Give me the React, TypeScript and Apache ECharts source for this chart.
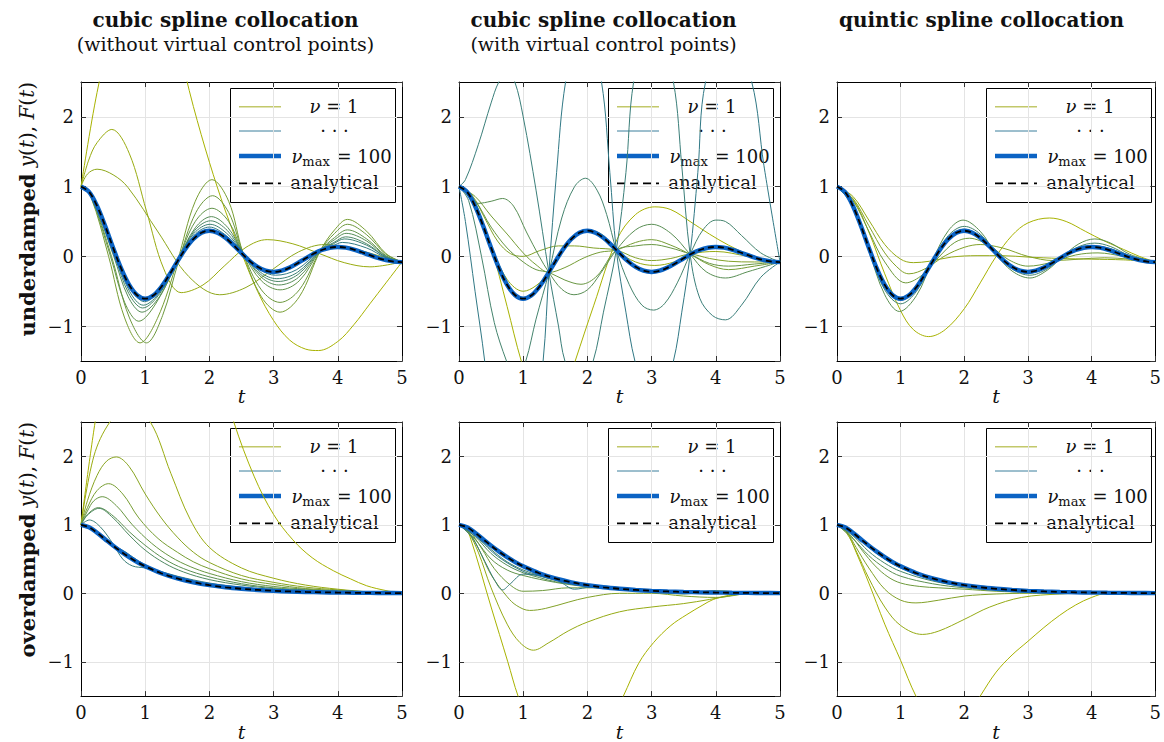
import React, { useEffect, useRef } from 'react';
import * as echarts from 'echarts';

type Pt = [number, number];

// ---------- analytical solutions ----------
const T_FINE = [0,0.125,0.25,0.375,0.5,0.625,0.75,0.875,1,1.125,1.25,1.375,1.5,1.625,1.75,1.875,2,2.125,2.25,2.375,2.5,2.625,2.75,2.875,3,3.125,3.25,3.375,3.5,3.625,3.75,3.875,4,4.125,4.25,4.375,4.5,4.625,4.75,4.875,5];
const UNDER_ANALYTIC = [1,0.925,0.723,0.439,0.124,-0.173,-0.409,-0.557,-0.607,-0.561,-0.439,-0.266,-0.075,0.105,0.248,0.338,0.368,0.340,0.266,0.162,0.046,-0.064,-0.150,-0.205,-0.223,-0.206,-0.161,-0.098,-0.028,0.039,0.091,0.124,0.135,0.125,0.098,0.059,0.017,-0.023,-0.055,-0.075,-0.082];
const T_OVER = [0,0.125,0.25,0.375,0.5,0.625,0.75,0.875,1,1.25,1.5,1.75,2,2.25,2.5,2.75,3,3.25,3.5,3.75,4,4.25,4.5,4.75,5];
const OVER_ANALYTIC = [1,0.963,0.884,0.790,0.696,0.608,0.528,0.456,0.394,0.293,0.217,0.161,0.119,0.088,0.066,0.049,0.036,0.027,0.020,0.015,0.011,0.008,0.006,0.004,0.003];

// ---------- panel 1: underdamped, cubic without virtual control points ----------
const p1_nu1: Pt[] = [[0,1],[0.25,2.35],[0.5,3.3],[0.75,3.85],[1,4.0],[1.25,3.75],[1.5,3.05],[1.75,2.15],[2,1.35],[2.25,0.65],[2.5,0.05],[2.75,-0.5],[3,-0.92],[3.25,-1.2],[3.5,-1.33],[3.7,-1.35],[4,-1.22],[4.25,-0.98],[4.5,-0.68],[4.75,-0.38],[5,-0.08]];
const p1_a: Pt[] = [[0,1],[0.12,1.38],[0.25,1.63],[0.48,1.82],[0.75,1.48],[1.02,0.65],[1.29,-0.18],[1.56,-0.52],[1.9,-0.41],[2.23,-0.14],[2.57,0.13],[2.9,0.24],[3.3,0.18],[3.7,0.045],[4.1,-0.09],[4.5,-0.15],[5,-0.08]];
const p1_b: Pt[] = [[0,1],[0.1,1.18],[0.25,1.25],[0.5,1.17],[0.73,0.99],[1.2,0.35],[1.68,-0.29],[2.16,-0.55],[2.57,-0.445],[2.98,-0.19],[3.39,0.065],[3.8,0.17],[4.2,0.12],[4.6,0.02],[5,-0.08]];
const p1_g1: Pt[] = [[0,1],[0.15,0.86],[0.43,0],[0.675,-0.87],[0.92,-1.24],[1.19,-0.89],[1.5,-0.07],[1.78,0.79],[2.04,1.1],[2.3,0.79],[2.52,0.06],[2.81,-0.58],[3.1,-0.8],[3.4,-0.58],[3.73,0.085],[3.95,0.38],[4.15,0.53],[4.45,0.36],[4.75,0.04],[5,-0.08]];
const p1_g2: Pt[] = [[0,1],[0.15,0.88],[0.475,0],[0.75,-0.87],[1.02,-1.24],[1.27,-0.85],[1.52,-0.07],[1.79,0.63],[2.05,0.87],[2.3,0.63],[2.52,0.06],[2.81,-0.48],[3.1,-0.66],[3.4,-0.48],[3.73,0.085],[3.95,0.33],[4.15,0.46],[4.45,0.31],[4.75,0.03],[5,-0.08]];
const p1_g3: Pt[] = [[0,1],[0.15,0.87],[0.46,0],[0.68,-0.66],[0.9,-0.93],[1.17,-0.67],[1.5,-0.07],[1.78,0.5],[2.04,0.69],[2.3,0.5],[2.52,0.06],[2.81,-0.35],[3.1,-0.48],[3.4,-0.35],[3.73,0.085],[3.95,0.27],[4.15,0.38],[4.45,0.25],[4.75,0.01],[5,-0.08]];
const p1_g4: Pt[] = [[0,1],[0.15,0.89],[0.51,0],[0.73,-0.57],[0.95,-0.8],[1.22,-0.58],[1.5,-0.07],[1.78,0.41],[2.03,0.57],[2.29,0.41],[2.52,0.06],[2.81,-0.3],[3.08,-0.41],[3.39,-0.3],[3.73,0.085],[3.95,0.24],[4.13,0.33],[4.45,0.22],[4.75,0.0],[5,-0.08]];
const p1_g5: Pt[] = [[0,1],[0.15,0.9],[0.526,0],[0.743,-0.53],[0.96,-0.74],[1.23,-0.53],[1.5,-0.07],[1.77,0.37],[2.02,0.51],[2.28,0.37],[2.52,0.06],[2.8,-0.26],[3.07,-0.36],[3.38,-0.26],[3.73,0.085],[3.94,0.2],[4.12,0.28],[4.45,0.18],[4.75,-0.01],[5,-0.08]];
const p1_g6: Pt[] = [[0,1],[0.15,0.9],[0.54,0],[0.755,-0.5],[0.97,-0.7],[1.24,-0.5],[1.5,-0.07],[1.76,0.33],[2.01,0.46],[2.27,0.33],[2.52,0.06],[2.8,-0.23],[3.05,-0.32],[3.37,-0.23],[3.73,0.085],[3.93,0.18],[4.1,0.25],[4.45,0.16],[4.75,-0.01],[5,-0.08]];
const p1_g7: Pt[] = [[0,1],[0.15,0.91],[0.562,0],[0.776,-0.467],[0.99,-0.65],[1.25,-0.46],[1.52,-0.07],[1.76,0.3],[2.0,0.42],[2.26,0.3],[2.52,0.06],[2.79,-0.19],[3.03,-0.27],[3.36,-0.19],[3.73,0.085],[3.92,0.15],[4.07,0.2],[4.45,0.12],[4.75,-0.02],[5,-0.08]];

// ---------- panel 2: underdamped, cubic with virtual control points ----------
const p2_nu1: Pt[] = [[0,1],[0.2,0.86],[0.35,0.55],[0.5,0.15],[0.75,-0.72],[0.97,-1.5],[1.2,-2.1],[1.4,-2.3],[1.6,-2.1],[1.81,-1.5],[2.1,-0.7],[2.46,0.24],[2.75,0.6],[3.05,0.71],[3.3,0.67],[3.6,0.5],[3.9,0.32],[4.2,0.16],[4.5,0.03],[4.75,-0.04],[5,-0.08]];
const p2_y1: Pt[] = [[0,1],[0.25,0.74],[0.5,0.16],[0.75,-0.33],[1.0,-0.5],[1.2,-0.42],[1.4,-0.23],[1.7,0.18],[2.0,0.38],[2.25,0.3],[2.45,0.09],[2.75,-0.08],[3.05,-0.13],[3.35,-0.08],[3.6,0.03],[4.0,0.07],[4.5,0.0],[5,-0.08]];
const p2_m1: Pt[] = [[0,1],[0.2,0.88],[0.4,0.55],[0.6,0.22],[0.8,0.04],[1.0,0.0],[1.25,0.08],[1.55,0.15],[1.8,0.15],[2.1,0.12],[2.45,0.09],[2.75,-0.02],[3.0,-0.06],[3.3,-0.03],[3.6,0.03],[3.9,-0.03],[4.2,-0.07],[4.6,-0.08],[5,-0.08]];
const p2_m2: Pt[] = [[0,1],[0.25,0.86],[0.5,0.58],[0.75,0.32],[1.0,0.05],[1.2,-0.12],[1.4,-0.23],[1.65,-0.16],[1.95,-0.02],[2.2,0.06],[2.45,0.09],[2.75,0.2],[3.0,0.24],[3.3,0.16],[3.6,0.03],[3.9,-0.12],[4.2,-0.19],[4.6,-0.14],[5,-0.08]];
const p2_m3: Pt[] = [[0,1],[0.25,0.8],[0.5,0.42],[0.75,0.12],[1.0,-0.08],[1.2,-0.19],[1.4,-0.23],[1.65,-0.34],[1.9,-0.4],[2.15,-0.28],[2.45,0.09],[2.75,0.15],[3.0,0.17],[3.3,0.12],[3.6,0.03],[3.9,-0.1],[4.2,-0.14],[4.6,-0.11],[5,-0.08]];
const p2_bump: Pt[] = [[0,1],[0.12,0.9],[0.3,0.76],[0.5,0.79],[0.68,0.83],[0.85,0.72],[1.05,0.35],[1.25,0.0],[1.4,-0.23],[1.6,-0.47],[1.79,-0.55],[2.0,-0.48],[2.2,-0.25],[2.45,0.09],[2.75,0.38],[3.0,0.46],[3.3,0.33],[3.6,0.03],[3.85,-0.22],[4.15,-0.31],[4.5,-0.22],[5,-0.08]];
const p2_wc: Pt[] = [[0,1],[0.15,0.8],[0.35,0.0],[0.55,-0.95],[0.74,-1.5],[0.89,-1.8],[1.04,-1.5],[1.2,-0.9],[1.4,-0.23],[1.6,0.55],[1.8,1.0],[1.97,1.12],[2.15,0.95],[2.3,0.6],[2.45,0.09],[2.65,-0.4],[2.85,-0.7],[3.03,-0.77],[3.2,-0.68],[3.4,-0.38],[3.6,0.03],[3.8,0.38],[4.0,0.52],[4.15,0.5],[4.4,0.3],[4.7,0.05],[5,-0.08]];
const p2_wa: Pt[] = [[0,1],[0.1,1.1],[0.3,1.6],[0.5,2.2],[0.62,2.5],[0.75,2.65],[0.87,2.5],[1.0,2.0],[1.2,0.95],[1.4,-0.23],[1.55,-1.0],[1.65,-1.5],[1.87,-1.95],[2.09,-1.5],[2.25,-0.8],[2.45,0.09],[2.6,1.2],[2.72,2.5],[3.02,3.6],[3.34,2.5],[3.47,1.3],[3.6,0.03],[3.75,-0.6],[3.95,-0.85],[4.15,-0.91],[4.4,-0.7],[4.7,-0.3],[5,-0.08]];
const p2_wb: Pt[] = [[0,1],[0.1,0.5],[0.25,-0.5],[0.4,-1.5],[0.6,-3.2],[0.85,-3.8],[1.1,-3.0],[1.31,-1.5],[1.4,-0.23],[1.52,1.2],[1.66,2.5],[1.94,3.6],[2.22,2.5],[2.35,1.2],[2.45,0.09],[2.6,-0.8],[2.74,-1.5],[3.04,-2.4],[3.34,-1.5],[3.47,-0.8],[3.6,0.03],[3.72,1.2],[3.84,2.5],[4.2,3.3],[4.56,2.5],[4.75,1.3],[5,-0.08]];

// ---------- panel 3: underdamped, quintic ----------
const p3_nu1: Pt[] = [[0,1],[0.25,0.82],[0.5,0.35],[0.75,-0.25],[1.0,-0.78],[1.2,-1.05],[1.44,-1.15],[1.7,-1.05],[2.0,-0.75],[2.25,-0.38],[2.5,0.0],[2.75,0.3],[3.0,0.48],[3.34,0.55],[3.6,0.5],[3.9,0.36],[4.2,0.22],[4.5,0.1],[4.75,0.0],[5,-0.08]];
const p3_a: Pt[] = [[0,1],[0.25,0.86],[0.5,0.52],[0.75,0.17],[1.0,-0.04],[1.2,-0.09],[1.45,-0.07],[1.8,-0.01],[2.2,0.01],[2.6,0.01],[3.0,-0.01],[3.5,-0.03],[4.0,-0.04],[4.5,-0.05],[5,-0.08]];
const p3_b: Pt[] = [[0,1],[0.25,0.83],[0.5,0.44],[0.75,0.05],[1.0,-0.2],[1.13,-0.25],[1.4,-0.17],[1.7,0.01],[2.0,0.13],[2.25,0.17],[2.6,0.12],[3.0,0.0],[3.4,-0.06],[3.8,-0.04],[4.2,-0.02],[4.6,-0.04],[5,-0.08]];
const p3_c: Pt[] = [[0,1],[0.25,0.8],[0.5,0.36],[0.75,-0.08],[1.08,-0.38],[1.35,-0.26],[1.6,-0.01],[1.85,0.2],[2.08,0.26],[2.4,0.15],[2.7,-0.05],[3.0,-0.14],[3.35,-0.09],[3.75,0.02],[4.1,0.05],[4.5,0.0],[5,-0.08]];
const p3_d: Pt[] = [[0,1],[0.25,0.74],[0.5,0.08],[0.75,-0.55],[0.98,-0.79],[1.25,-0.56],[1.5,-0.06],[1.75,0.37],[1.98,0.52],[2.25,0.36],[2.5,0.03],[2.75,-0.21],[3.03,-0.31],[3.3,-0.2],[3.55,0.0],[3.8,0.18],[4.05,0.25],[4.3,0.19],[4.6,0.03],[5,-0.08]];
const p3_e: Pt[] = [[0,1],[0.25,0.73],[0.5,0.1],[0.75,-0.48],[1.0,-0.68],[1.25,-0.5],[1.5,-0.07],[1.75,0.3],[2.0,0.43],[2.25,0.32],[2.5,0.04],[2.75,-0.18],[3.03,-0.27],[3.3,-0.18],[3.55,0.0],[3.8,0.14],[4.05,0.19],[4.3,0.14],[4.6,0.01],[5,-0.08]];
const p3_f: Pt[] = [[0,1],[0.25,0.725],[0.5,0.115],[0.75,-0.43],[1.0,-0.63],[1.25,-0.46],[1.5,-0.075],[1.75,0.26],[2.0,0.39],[2.25,0.29],[2.5,0.045],[2.75,-0.16],[3.0,-0.24],[3.3,-0.16],[3.55,0.0],[3.8,0.11],[4.05,0.15],[4.3,0.11],[4.6,0.0],[5,-0.08]];

// ---------- panel 4: overdamped, cubic without virtual control points ----------
const p4_nu1: Pt[] = [[0,1],[0.22,2.5],[0.5,4.0],[1.0,5.2],[1.5,5.0],[2.0,3.7],[2.38,2.5],[2.7,1.7],[3.0,1.15],[3.3,0.78],[3.6,0.52],[3.93,0.33],[4.2,0.21],[4.45,0.11],[4.75,0.04],[5,0]];
const p4_a: Pt[] = [[0,1],[0.2,2.0],[0.45,2.5],[0.75,2.75],[1.08,2.5],[1.4,1.75],[1.7,1.08],[2.0,0.67],[2.5,0.37],[3.0,0.22],[3.5,0.12],[4.0,0.06],[4.5,0.02],[5,0]];
const p4_b: Pt[] = [[0,1],[0.1,1.35],[0.25,1.72],[0.4,1.93],[0.55,1.99],[0.75,1.85],[1.0,1.45],[1.25,1.1],[1.5,0.82],[1.75,0.6],[2.0,0.45],[2.5,0.26],[3.0,0.16],[3.5,0.09],[4.0,0.05],[4.5,0.02],[5,0]];
const p4_c: Pt[] = [[0,1],[0.1,1.25],[0.25,1.5],[0.43,1.6],[0.65,1.45],[0.9,1.1],[1.2,0.8],[1.5,0.6],[1.75,0.46],[2.0,0.36],[2.5,0.21],[3.0,0.13],[3.5,0.07],[4.0,0.04],[4.5,0.015],[5,0]];
const p4_d: Pt[] = [[0,1],[0.1,1.2],[0.2,1.35],[0.33,1.41],[0.55,1.28],[0.8,1.0],[1.1,0.73],[1.4,0.53],[1.7,0.39],[2.0,0.29],[2.5,0.17],[3.0,0.1],[3.5,0.06],[4.0,0.03],[4.5,0.012],[5,0]];
const p4_e: Pt[] = [[0,1],[0.1,1.15],[0.27,1.25],[0.5,1.13],[0.75,0.9],[1.0,0.7],[1.3,0.5],[1.6,0.36],[2.0,0.24],[2.5,0.14],[3.0,0.08],[3.5,0.05],[4.0,0.025],[4.5,0.01],[5,0]];
const p4_f: Pt[] = [[0,1],[0.1,1.14],[0.28,1.24],[0.5,1.1],[0.75,0.85],[1.0,0.63],[1.3,0.44],[1.6,0.31],[2.0,0.2],[2.5,0.12],[3.0,0.07],[3.5,0.04],[4.0,0.02],[4.5,0.008],[5,0]];
const p4_g: Pt[] = [[0,1],[0.13,1.07],[0.3,0.97],[0.5,0.72],[0.65,0.5],[0.8,0.4],[1.0,0.37],[1.2,0.33],[1.5,0.25],[2.0,0.15],[2.5,0.09],[3,0.05],[3.5,0.03],[4,0.015],[4.5,0.006],[5,0]];
const p4_h: Pt[] = [[0,1],[0.2,0.93],[0.35,0.83],[0.5,0.71],[0.7,0.6],[0.9,0.47],[1.2,0.33],[1.6,0.21],[2,0.13],[3,0.04],[4,0.012],[5,0]];

// ---------- panel 5: overdamped, cubic with virtual control points ----------
const p5_nu1: Pt[] = [[0,1],[0.08,0.97],[0.17,0.83],[0.5,-0.2],[0.76,-1.0],[0.92,-1.5],[1.25,-2.3],[1.75,-2.6],[2.2,-2.2],[2.56,-1.5],[2.8,-1.02],[3.03,-0.72],[3.3,-0.47],[3.55,-0.31],[3.8,-0.17],[3.96,-0.09],[4.2,-0.03],[4.45,0.0],[5,0]];
const p5_a: Pt[] = [[0,1],[0.15,0.88],[0.3,0.6],[0.5,0.08],[0.75,-0.45],[0.95,-0.72],[1.16,-0.83],[1.4,-0.72],[1.7,-0.55],[2.0,-0.42],[2.5,-0.27],[3.0,-0.2],[3.5,-0.15],[3.9,-0.09],[4.2,-0.04],[4.5,0],[5,0]];
const p5_b: Pt[] = [[0,1],[0.15,0.9],[0.3,0.66],[0.5,0.27],[0.75,-0.05],[0.9,-0.18],[1.1,-0.25],[1.35,-0.22],[1.7,-0.13],[2.0,-0.06],[2.5,0.0],[3.0,0.0],[3.5,-0.04],[4.0,-0.06],[4.3,-0.03],[4.5,0],[5,0]];
const p5_c: Pt[] = [[0,1],[0.15,0.92],[0.35,0.66],[0.55,0.36],[0.8,0.12],[1.0,0.03],[1.3,0.04],[1.7,0.08],[2.0,0.08],[2.5,0.06],[3.0,0.02],[3.5,-0.01],[4.0,0.04],[4.3,0.02],[4.5,0.0],[5,0]];
const p5_d: Pt[] = [[0,1],[0.25,0.79],[0.5,0.5],[0.75,0.34],[1.0,0.26],[1.5,0.16],[2,0.095],[2.5,0.055],[3,0.03],[4,0.01],[5,0]];
const p5_e: Pt[] = [[0,1],[0.25,0.83],[0.5,0.58],[0.75,0.41],[1.0,0.3],[1.25,0.23],[1.5,0.17],[2,0.1],[2.5,0.058],[3,0.033],[4,0.01],[5,0]];
const p5_f: Pt[] = [[0,1],[0.25,0.86],[0.5,0.64],[0.75,0.46],[1.0,0.34],[1.25,0.26],[1.5,0.19],[2,0.11],[2.5,0.063],[3,0.035],[3.5,0.02],[4,0.01],[5,0]];
const p5_g: Pt[] = [[0,1],[0.2,0.82],[0.4,0.47],[0.55,0.2],[0.68,0.05],[0.8,0.14],[1.0,0.28],[1.25,0.26],[1.5,0.2],[2.0,0.12],[2.5,0.065],[3,0.036],[4,0.011],[5,0]];
const p5_h: Pt[] = [[0,1],[0.3,0.8],[0.6,0.54],[1.0,0.32],[1.3,0.24],[1.55,0.18],[1.8,0.06],[2.05,0.09],[2.3,0.09],[2.6,0.065],[3,0.04],[4,0.012],[5,0]];

// ---------- panel 6: overdamped, quintic ----------
const p6_nu1: Pt[] = [[0,1],[0.15,0.9],[0.3,0.6],[0.5,0.15],[0.75,-0.45],[1.0,-0.98],[1.24,-1.5],[1.5,-1.9],[1.8,-2.0],[2.05,-1.8],[2.25,-1.5],[2.5,-1.15],[2.75,-0.9],[3.0,-0.7],[3.25,-0.5],[3.5,-0.32],[3.75,-0.17],[4.0,-0.06],[4.25,0],[5,0]];
const p6_a: Pt[] = [[0,1],[0.15,0.88],[0.3,0.62],[0.5,0.22],[0.75,-0.2],[1.0,-0.47],[1.34,-0.6],[1.6,-0.55],[2.0,-0.38],[2.4,-0.2],[2.9,-0.06],[3.5,-0.01],[4.0,0],[5,0]];
const p6_b: Pt[] = [[0,1],[0.15,0.9],[0.3,0.67],[0.5,0.37],[0.75,0.06],[1.0,-0.1],[1.24,-0.14],[1.6,-0.1],[2.0,-0.04],[2.5,-0.01],[3,0],[5,0]];
const p6_c: Pt[] = [[0,1],[0.2,0.86],[0.4,0.62],[0.6,0.4],[0.8,0.24],[1.0,0.15],[1.3,0.1],[1.6,0.08],[2.0,0.06],[2.5,0.03],[3,0.015],[4,0.002],[5,0]];
const p6_d: Pt[] = [[0,1],[0.25,0.8],[0.5,0.55],[0.75,0.37],[1.0,0.25],[1.5,0.14],[2,0.08],[2.5,0.045],[3,0.025],[4,0.005],[5,0]];
const p6_e: Pt[] = [[0,1],[0.25,0.84],[0.5,0.61],[0.75,0.44],[1.0,0.32],[1.5,0.18],[2,0.1],[2.5,0.056],[3,0.031],[4,0.008],[5,0]];
const p6_f: Pt[] = [[0,1],[0.25,0.87],[0.5,0.67],[0.75,0.5],[1.0,0.37],[1.5,0.2],[2,0.115],[2.5,0.063],[3,0.035],[4,0.01],[5,0]];

// ---------- text ----------
const TITLES = ['cubic spline collocation', 'cubic spline collocation', 'quintic spline collocation'];
const SUBTITLES = ['(without virtual control points)', '(with virtual control points)', ''];
const ROW_LABELS = ['underdamped', 'overdamped'];

// curve lists per panel: [data, colour position 0 (ν=1) .. 1 (late iterations)]
const PANELS: { curves: [Pt[], number][]; over: boolean }[] = [
  { over: false, curves: [[p1_nu1,0],[p1_a,0.12],[p1_b,0.2],[p1_g1,0.38],[p1_g2,0.46],[p1_g3,0.55],[p1_g4,0.64],[p1_g5,0.73],[p1_g6,0.83],[p1_g7,0.93]] },
  { over: false, curves: [[p2_nu1,0],[p2_y1,0.15],[p2_m1,0.3],[p2_m2,0.4],[p2_m3,0.5],[p2_bump,0.62],[p2_wc,0.78],[p2_wa,0.86],[p2_wb,0.94]] },
  { over: false, curves: [[p3_nu1,0],[p3_a,0.15],[p3_b,0.3],[p3_c,0.45],[p3_d,0.6],[p3_e,0.78],[p3_f,0.92]] },
  { over: true, curves: [[p4_nu1,0],[p4_a,0.12],[p4_b,0.25],[p4_c,0.38],[p4_d,0.5],[p4_e,0.6],[p4_f,0.7],[p4_g,0.85],[p4_h,0.95]] },
  { over: true, curves: [[p5_nu1,0],[p5_a,0.15],[p5_b,0.3],[p5_c,0.45],[p5_d,0.55],[p5_e,0.65],[p5_f,0.75],[p5_g,0.88],[p5_h,0.95]] },
  { over: true, curves: [[p6_nu1,0],[p6_a,0.15],[p6_b,0.3],[p6_c,0.45],[p6_d,0.6],[p6_e,0.75],[p6_f,0.9]] },
];

const FONT = "'DejaVu Serif', 'Liberation Serif', serif";

function colorAt(f: number): string {
  const s0 = [168, 178, 0], s1 = [104, 150, 66], s2 = [40, 116, 142];
  let a: number[], b: number[], u: number;
  if (f < 0.5) { a = s0; b = s1; u = f / 0.5; } else { a = s1; b = s2; u = (f - 0.5) / 0.5; }
  const c = a.map((v, i) => Math.round(v + (b[i] - v) * u));
  return `rgb(${c[0]},${c[1]},${c[2]})`;
}

const fmt = (v: number) => (v < 0 ? '\u2212' + Math.abs(v) : String(v));

export default function App() {
  const ref = useRef<HTMLDivElement>(null);
  useEffect(() => {
    if (!ref.current) return;
    const chart = echarts.init(ref.current, undefined, { renderer: 'svg' });
    const lefts = [81, 459, 837];
    const tops = [82, 422];
    const PW = 321, PH = 279;
    const grids: any[] = [], xAxes: any[] = [], yAxes: any[] = [], series: any[] = [], graphics: any[] = [];
    const axisCol = '#000';
    const tick = { inside: true, length: 5, lineStyle: { color: '#333', width: 1 } };

    PANELS.forEach((p, i) => {
      const r = Math.floor(i / 3), c = i % 3;
      const L = lefts[c], T = tops[r];
      grids.push({ left: L, top: T, width: PW, height: PH, containLabel: false });
      xAxes.push({
        type: 'value', gridIndex: i, min: 0, max: 5, interval: 1, position: 'bottom',
        axisLine: { show: true, onZero: false, lineStyle: { color: axisCol, width: 1 } },
        axisTick: tick,
        axisLabel: { fontFamily: FONT, fontSize: 18, color: '#111', margin: 7, formatter: fmt },
        splitLine: { show: true, lineStyle: { color: '#e4e4e4', width: 1 } },
        name: 't', nameLocation: 'middle', nameGap: 24,
        nameTextStyle: { fontFamily: FONT, fontStyle: 'italic', fontSize: 19, color: '#111' },
      });
      xAxes.push({
        type: 'value', gridIndex: i, min: 0, max: 5, interval: 1, position: 'top',
        axisLine: { show: true, onZero: false, lineStyle: { color: axisCol, width: 1 } },
        axisTick: tick, axisLabel: { show: false }, splitLine: { show: false },
      });
      yAxes.push({
        type: 'value', gridIndex: i, min: -1.5, max: 2.5, splitNumber: 4, minInterval: 1, maxInterval: 1, position: 'left',
        axisLine: { show: true, onZero: false, lineStyle: { color: axisCol, width: 1 } },
        axisTick: tick,
        axisLabel: { fontFamily: FONT, fontSize: 18, color: '#111', margin: 7, formatter: fmt, showMinLabel: false, showMaxLabel: false },
        splitLine: { show: true, lineStyle: { color: '#e4e4e4', width: 1 } },
      });
      yAxes.push({
        type: 'value', gridIndex: i, min: -1.5, max: 2.5, splitNumber: 4, minInterval: 1, maxInterval: 1, position: 'right',
        axisLine: { show: true, onZero: false, lineStyle: { color: axisCol, width: 1 } },
        axisTick: tick, axisLabel: { show: false }, splitLine: { show: false },
      });

      const xi = 2 * i, yi = 2 * i;
      p.curves.forEach(([data, f], k) => {
        series.push({
          type: 'line', xAxisIndex: xi, yAxisIndex: yi, data, symbol: 'none', smooth: 0.35,
          lineStyle: { width: 1, color: colorAt(f) }, silent: true, z: 2 + k * 0.01, clip: true,
        });
      });
      const tArr = p.over ? T_OVER : T_FINE;
      const vArr = p.over ? OVER_ANALYTIC : UNDER_ANALYTIC;
      const an = tArr.map((t, j) => [t, vArr[j]]);
      series.push({
        type: 'line', xAxisIndex: xi, yAxisIndex: yi, data: an, symbol: 'none', smooth: 0.35,
        lineStyle: { width: 4.4, color: '#0b63c4' }, silent: true, z: 3, clip: true,
      });
      series.push({
        type: 'line', xAxisIndex: xi, yAxisIndex: yi, data: an, symbol: 'none', smooth: 0.35,
        lineStyle: { width: 1.8, color: '#000', type: [6, 4] }, silent: true, z: 4, clip: true,
      });

      // legend box
      const gx = L + 149, gy = T + 6;
      const rich = {
        i: { fontFamily: FONT, fontStyle: 'italic', fontSize: 18, lineHeight: 24, fill: '#111' },
        r: { fontFamily: FONT, fontSize: 18, lineHeight: 24, fill: '#111' },
        s: { fontFamily: FONT, fontSize: 13, lineHeight: 13, padding: [11, 1, 0, 0], fill: '#111' },
      };
      graphics.push({
        type: 'group', x: gx, y: gy, z: 100,
        children: [
          { type: 'rect', shape: { x: 0.5, y: 0.5, width: 165, height: 114 }, style: { fill: '#fff', stroke: '#000', lineWidth: 1 } },
          { type: 'line', shape: { x1: 9, y1: 18.7, x2: 51, y2: 18.7 }, style: { stroke: '#c2c86a', lineWidth: 1.6 } },
          { type: 'line', shape: { x1: 9, y1: 43, x2: 51, y2: 43 }, style: { stroke: '#3b7f9c', lineWidth: 1 } },
          { type: 'line', shape: { x1: 9, y1: 68, x2: 51, y2: 68 }, style: { stroke: '#0b63c4', lineWidth: 4.4 } },
          { type: 'line', shape: { x1: 9, y1: 95.3, x2: 51, y2: 95.3 }, style: { stroke: '#000', lineWidth: 1.8, lineDash: [8, 5] } },
          { type: 'text', x: 104, y: 18, style: { text: '{i|\u03bd}{r| = 1}', rich, align: 'center', verticalAlign: 'middle' } },
          { type: 'text', x: 104.5, y: 42, style: { text: '{r|\u00b7 \u00b7 \u00b7}', rich, align: 'center', verticalAlign: 'middle' } },
          { type: 'text', x: 111.5, y: 68, style: { text: '{i|\u03bd}{s|max}{r| = 100}', rich, align: 'center', verticalAlign: 'middle' } },
          { type: 'text', x: 104.5, y: 94.5, style: { text: '{r|analytical}', rich, align: 'center', verticalAlign: 'middle' } },
        ],
      });

      if (r === 0) {
        const cx = L + PW / 2 - 16;
        graphics.push({ type: 'text', x: cx, y: 20, z: 100, style: { text: TITLES[c], fontFamily: FONT, fontWeight: 'bold', fontSize: 20, fill: '#111', align: 'center', verticalAlign: 'middle' } });
        if (SUBTITLES[c]) graphics.push({ type: 'text', x: cx, y: 44, z: 100, style: { text: SUBTITLES[c], fontFamily: FONT, fontSize: 19, fill: '#111', align: 'center', verticalAlign: 'middle' } });
      }
      if (c === 0) {
        const yrich = {
          b: { fontFamily: FONT, fontWeight: 'bold', fontSize: 21, fill: '#111' },
          i: { fontFamily: FONT, fontStyle: 'italic', fontSize: 20, fill: '#111' },
          r: { fontFamily: FONT, fontSize: 20, fill: '#111' },
        };
        graphics.push({
          type: 'text', x: 27, y: T, rotation: Math.PI / 2, z: 100,
          style: { text: `{b|${ROW_LABELS[r]}}{r| }{i|y}{r|(}{i|t}{r|), }{i|F}{r|(}{i|t}{r|)}`, rich: yrich, align: 'right', verticalAlign: 'middle' },
        });
      }
    });

    chart.setOption({
      animation: false,
      backgroundColor: '#fff',
      grid: grids, xAxis: xAxes, yAxis: yAxes, series, graphic: graphics,
    });
    return () => chart.dispose();
  }, []);
  return <div ref={ref} style={{ position: 'fixed', left: 0, top: 0, width: 1164, height: 742, background: '#fff' }} />;
}
